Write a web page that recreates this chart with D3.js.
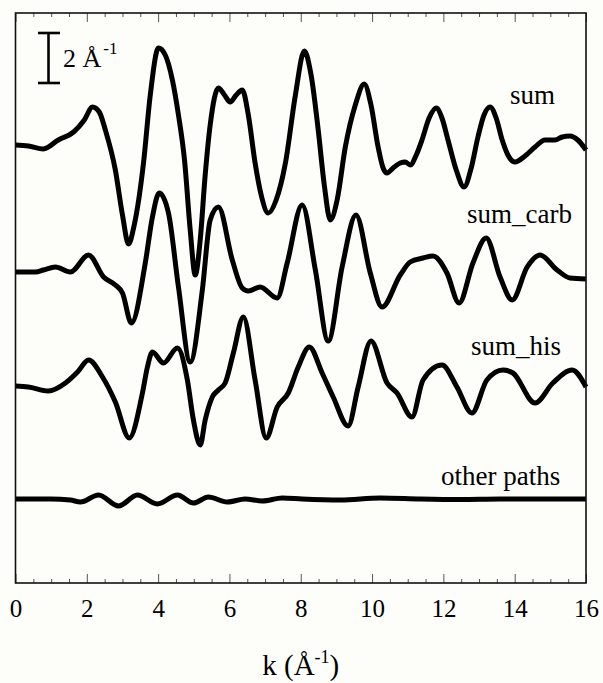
<!DOCTYPE html>
<html><head><meta charset="utf-8">
<script src="https://cdn.jsdelivr.net/npm/d3@7"></script>
<style>
html,body{margin:0;padding:0;background:#fdfdfa;}
svg{display:block;font-family:"Liberation Serif","Times New Roman",serif;}
</style></head>
<body><svg id="c" width="603" height="683"></svg>
<script>
// ---- data (k in Å^-1, chi values in Å^-1 units, relative to each trace's baseline) ----
const seriesNames = ["sum", "sum_carb", "sum_his", "other paths"];
const offsets = [17.52, 12.44, 7.88, 3.36];

const sumK = [0,0.36,0.78,1.20,1.63,1.93,2.16,2.35,2.52,2.80,3.00,3.17,3.33,3.59,3.78,4.01,4.20,4.40,4.57,4.74,4.90,5.04,5.18,5.32,5.46,5.69,5.86,6.02,6.19,6.36,6.53,6.72,6.89,7.09,7.31,7.57,7.85,8.10,8.29,8.49,8.66,8.83,9.02,9.25,9.53,9.78,9.97,10.17,10.31,10.42,10.59,10.79,10.93,11.07,11.24,11.40,11.60,11.80,11.96,12.13,12.36,12.58,12.78,12.97,13.14,13.31,13.48,13.65,13.81,14.01,14.29,14.57,14.85,15.13,15.33,15.55,15.77,16.0];
const sumV = [0,-0.04,-0.16,0.2,0.52,1.0,1.52,1.32,0.6,-1.0,-2.8,-3.96,-3.2,-0.72,2.0,3.88,3.6,2.6,1.2,-0.6,-3.4,-5.2,-3.8,-1.2,0.8,2.28,2.0,1.72,2.0,2.2,1.2,-0.72,-2.0,-2.72,-2.2,-0.72,2.0,3.76,2.8,0.6,-1.6,-3.0,-2.2,-0.08,1.6,2.44,1.6,-0.08,-0.92,-1.12,-0.92,-0.72,-0.68,-0.8,-0.4,0.2,1.08,1.48,1.08,0.2,-1.0,-1.68,-0.92,0.32,1.2,1.52,1.08,0.2,-0.4,-0.68,-0.44,-0.08,0.2,0.2,0.32,0.36,0.2,-0.2];

const carbK = [0,0.56,0.78,1.12,1.54,2.05,2.47,2.80,3.00,3.25,3.64,3.84,4.03,4.29,4.57,4.90,5.24,5.46,5.69,6.08,6.36,6.53,6.86,7.34,7.62,8.04,8.41,8.77,9.16,9.55,9.95,10.28,10.79,11.07,11.43,11.71,12.10,12.44,12.83,13.20,13.59,13.93,14.35,14.71,15.19,15.55,16.0];
const carbV = [0,0,0.08,0.2,0,0.68,-0.2,-0.52,-0.84,-2.04,0.36,2.2,3.16,2.36,-0.6,-3.6,-0.72,2.08,2.6,0.48,-0.64,-0.76,-0.6,-1.04,0.36,2.68,0.08,-2.76,0.2,2.28,-0.04,-1.4,-0.12,0.4,0.56,0.64,-0.04,-1.24,0.36,1.36,-0.2,-1.12,0.2,0.68,0.08,-0.24,-0.28];

const hisK = [0,0.36,0.92,1.40,1.74,2.05,2.44,2.80,3.19,3.56,3.70,3.84,4.15,4.54,4.82,4.99,5.18,5.32,5.52,5.69,5.88,6.11,6.39,6.72,7.03,7.34,7.65,7.93,8.24,8.60,8.91,9.33,9.61,9.97,10.42,10.70,11.12,11.43,11.96,12.38,12.80,13.22,13.67,13.95,14.57,15.07,15.61,16.0];
const hisV = [0,-0.04,-0.2,0.12,0.56,1.04,0.36,-0.64,-2.08,-0.28,0.76,1.36,0.92,1.52,0.24,-1.36,-2.36,-1.36,-0.44,-0.16,0.12,1.32,2.76,0.24,-2.08,-0.84,-0.28,0.76,1.56,0.52,-0.44,-1.6,-0.04,1.8,0.12,-0.28,-1.24,0.24,0.84,-0.04,-1.08,0.24,0.64,0.52,-0.68,0.12,0.64,-0.04];

const otherK = [0,0.98,1.54,1.82,2.33,2.89,3.42,3.98,4.54,4.99,5.41,5.94,6.44,6.92,7.48,8.04,9.11,10.23,11.35,12.47,13.59,14.71,16.0];
const otherV = [0,0,-0.04,-0.12,0.16,-0.28,0.16,-0.2,0.16,-0.16,0.08,-0.12,0,-0.08,0.04,0,-0.04,0.04,0,-0.02,0,0,0];

const xTicks = [0,2,4,6,8,10,12,14,16];
const scaleBarValue = 2;

// ---- layout ----
const W = 603, H = 683;
const m = {left: 15.5, right: 17, top: 13, bottom: 100};
const svg = d3.select("#c");
const x = d3.scaleLinear().domain([0,16]).range([m.left, W - m.right]);
const y = d3.scaleLinear().domain([0,22.8]).range([H - m.bottom, m.top]);

const traces = [[sumK,sumV],[carbK,carbV],[hisK,hisV],[otherK,otherV]];
const line = d3.line().x(d => x(d[0])).y(d => y(d[1])).curve(d3.curveMonotoneX);

traces.forEach((t, i) => {
  const pts = t[0].map((k, j) => [k, t[1][j] + offsets[i]]);
  svg.append("path").attr("d", line(pts))
    .attr("fill","none").attr("stroke","#000").attr("stroke-width",5)
    .attr("stroke-linejoin","round").attr("stroke-linecap","butt");
});

// axes ticks
const minor = d3.range(0, 16.001, 0.5).filter(v => v % 2 !== 0);
const gb = svg.append("g").attr("transform",`translate(0,${H-m.bottom})`);
gb.call(d3.axisBottom(x).tickValues(xTicks).tickSize(-9).tickPadding(16).tickFormat(d3.format("d")));
const gbm = svg.append("g").attr("transform",`translate(0,${H-m.bottom})`);
gbm.call(d3.axisBottom(x).tickValues(minor).tickSize(-4).tickFormat(""));
const gt = svg.append("g").attr("transform",`translate(0,${m.top})`);
gt.call(d3.axisTop(x).tickValues(xTicks).tickSize(-9).tickFormat(""));
const gtm = svg.append("g").attr("transform",`translate(0,${m.top})`);
gtm.call(d3.axisTop(x).tickValues(minor).tickSize(-4).tickFormat(""));
[gb,gbm,gt,gtm].forEach(g => {
  g.select(".domain").remove();
  g.selectAll(".tick line").attr("stroke","#555").attr("stroke-width",1);
  g.selectAll("text").attr("font-size",25).attr("font-family","Liberation Serif").attr("fill","#000");
});

// frame
svg.append("rect").attr("x", x(0)).attr("y", y(22.8))
  .attr("width", x(16)-x(0)).attr("height", y(0)-y(22.8))
  .attr("fill","none").attr("stroke","#111").attr("stroke-width",1.6);

// x label
const xl = svg.append("text").attr("x", (x(0)+x(16))/2).attr("y", 675)
  .attr("text-anchor","middle").attr("font-size",29);
xl.append("tspan").text("k (Å");
xl.append("tspan").attr("font-size",18).attr("dy",-12).text("-1");
xl.append("tspan").attr("dy",12).text(")");

// trace labels
const labelPos = [[510,104],[467,223],[471,355],[441,485]];
seriesNames.forEach((n,i) => {
  svg.append("text").attr("x",labelPos[i][0]).attr("y",labelPos[i][1])
    .attr("font-size",27).text(n);
});

// scale bar (2 Å^-1)
const bx = 48.5, btop = 33;
const blen = y(0) - y(scaleBarValue);
const sb = svg.append("g").attr("stroke","#000").attr("stroke-width",2.6);
sb.append("line").attr("x1",bx).attr("x2",bx).attr("y1",btop).attr("y2",btop+blen);
sb.append("line").attr("x1",38).attr("x2",60).attr("y1",btop).attr("y2",btop);
sb.append("line").attr("x1",38).attr("x2",60).attr("y1",btop+blen).attr("y2",btop+blen);
const st = svg.append("text").attr("x",63).attr("y",67).attr("font-size",26);
st.append("tspan").text(scaleBarValue + " Å");
st.append("tspan").attr("font-size",17).attr("dy",-13).attr("dx",2).text("-1");
</script></body></html>
